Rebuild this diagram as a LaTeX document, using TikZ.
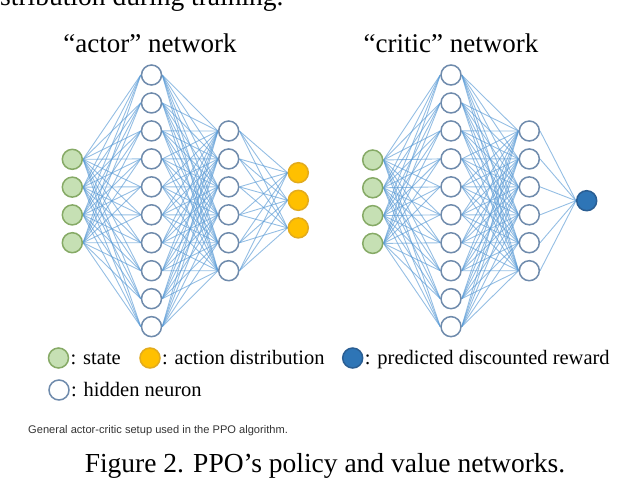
\documentclass[tikz,border=0pt]{standalone}
\usepackage{fontspec}
\setmainfont{Liberation Serif}
\newfontfamily\capsans{Liberation Sans}
\usetikzlibrary{backgrounds}
\definecolor{edgeblue}{HTML}{5B9BD5}
\definecolor{hidborder}{HTML}{6F8BAC}
\definecolor{grfill}{HTML}{C6E0B4}
\definecolor{grborder}{HTML}{86AA66}
\definecolor{yefill}{HTML}{FFC000}
\definecolor{yeborder}{HTML}{E2AB1E}
\definecolor{blfill}{HTML}{2E75B6}
\definecolor{blborder}{HTML}{2A5E93}
\tikzset{
  neuron/.style={circle, minimum size=20pt, inner sep=0pt, line width=1.5pt},
  hidden/.style={neuron, draw=hidborder, fill=white},
  statenode/.style={neuron, draw=grborder, fill=grfill},
  actionnode/.style={neuron, draw=yeborder, fill=yefill},
  valuenode/.style={neuron, draw=blborder, fill=blfill},
  wire/.style={draw=edgeblue, line width=0.9pt, opacity=0.65},
  legtext/.style={anchor=base west, inner sep=0pt, font=\fontsize{20.5}{24}\selectfont},
  titletext/.style={anchor=base, inner sep=0pt, font=\fontsize{27}{32}\selectfont},
}
\begin{document}
\begin{tikzpicture}[x=1pt,y=-1pt]
\useasboundingbox (0,0) rectangle (626,480);
\clip (0,0) rectangle (626,480);
% clipped text at top
\node[anchor=base west, inner sep=0pt, font=\fontsize{27.5}{32}\selectfont] (toptext) at (0,5) {stribution during training.};
% titles
\node[titletext] (atitle) at (150,52) {“actor” network};
\node[titletext] (ctitle) at (451,52) {“critic” network};
% actor network
\foreach \i in {1,...,4} \node[statenode] (ai\i) at (72.3,{159.3+27.8*(\i-1)}) {};
\foreach \i in {1,...,10} \node[hidden] (ah\i) at (151.5,{75+27.96*(\i-1)}) {};
\foreach \i in {1,...,6} \node[hidden] (ag\i) at (228.7,{131+27.94*(\i-1)}) {};
\foreach \i in {1,...,3} \node[actionnode] (ao\i) at (298.3,{172.7+27.6*(\i-1)}) {};
% critic network
\foreach \i in {1,...,4} \node[statenode] (ci\i) at (372.7,{160+27.8*(\i-1)}) {};
\foreach \i in {1,...,10} \node[hidden] (ch\i) at (451,{75+27.96*(\i-1)}) {};
\foreach \i in {1,...,6} \node[hidden] (cg\i) at (529.3,{131+27.94*(\i-1)}) {};
\node[valuenode] (co) at (586.7,200.7) {};
% edges
\begin{scope}[on background layer]
\foreach \a in {1,...,4} \foreach \b in {1,...,10} {
  \draw[wire] (ai\a.east) -- (ah\b.west);
  \draw[wire] (ci\a.east) -- (ch\b.west);
}
\foreach \a in {1,...,10} \foreach \b in {1,...,6} {
  \draw[wire] (ah\a.east) -- (ag\b.west);
  \draw[wire] (ch\a.east) -- (cg\b.west);
}
\foreach \a in {1,...,6} {
  \foreach \b in {1,...,3} \draw[wire] (ag\a.east) -- (ao\b.west);
  \draw[wire] (cg\a.east) -- (co.west);
}
\end{scope}
% legend
\node[statenode] (lstate) at (58.5,358) {};
\node[legtext] (lstatet) at (70.5,364.5) {: state};
\node[actionnode] (laction) at (150,358) {};
\node[legtext] (lactiont) at (162,364.5) {: action distribution};
\node[valuenode] (lvalue) at (352.7,358) {};
\node[legtext] (lvaluet) at (364.7,364.5) {: predicted discounted reward};
\node[hidden] (lhidden) at (59,390) {};
\node[legtext] (lhiddent) at (71,396.5) {: hidden neuron};
% captions
\node[anchor=base west, inner sep=0pt, text=black!80, font=\capsans\fontsize{11.1}{13}\selectfont] (subcap) at (28,433.5) {General actor-critic setup used in the PPO algorithm.};
\node[anchor=base, inner sep=0pt, font=\fontsize{27.5}{32}\selectfont] (figcap) at (325,472) {Figure 2. PPO’s policy and value networks.};
\end{tikzpicture}
\end{document}
